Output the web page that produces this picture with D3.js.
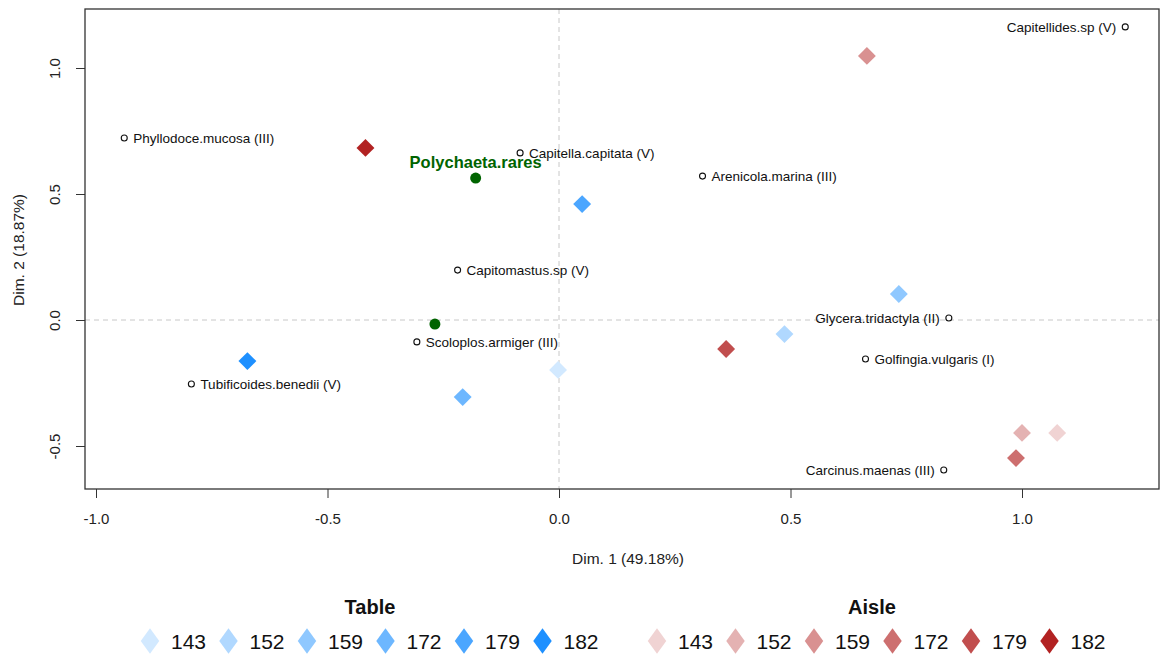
<!DOCTYPE html>
<html>
<head>
<meta charset="utf-8">
<script src="https://cdn.jsdelivr.net/npm/d3@7"></script>
<style>
  body { margin: 0; background: #fff; }
  svg { font-family: "Liberation Sans", Arial, sans-serif; }
</style>
</head>
<body>
<svg id="chart" width="1160" height="657"></svg>
<script>
// levels shared by both groups
var levels = ["143", "152", "159", "172", "179", "182"];
var levelAlpha = [0.2, 0.35, 0.5, 0.65, 0.8, 1];

// supplementary categories (diamonds)
var tableX = [-0.002, 0.487, 0.734, -0.208, 0.050, -0.673];
var tableY = [-0.198, -0.056, 0.103, -0.306, 0.460, -0.163];
var aisleX = [1.076, 1.000, 0.665, 0.987, 0.361, -0.418];
var aisleY = [-0.448, -0.448, 1.048, -0.548, -0.115, 0.683];

// species (small open circles)
var species = ["Phyllodoce.mucosa (III)", "Capitella.capitata (V)", "Arenicola.marina (III)",
  "Capitomastus.sp (V)", "Scoloplos.armiger (III)", "Tubificoides.benedii (V)",
  "Capitellides.sp (V)", "Glycera.tridactyla (II)", "Golfingia.vulgaris (I)", "Carcinus.maenas (III)"];
var speciesX = [-0.939, -0.084, 0.310, -0.219, -0.307, -0.794, 1.223, 0.842, 0.662, 0.831];
var speciesY = [0.722, 0.663, 0.571, 0.198, -0.087, -0.254, 1.163, 0.008, -0.155, -0.595];
var speciesSide = ["r", "r", "r", "r", "r", "r", "l", "l", "r", "l"];

// green points
var greenNames = ["Polychaeta.rares", ""];
var greenX = [-0.180, -0.268];
var greenY = [0.563, -0.016];

var xTicks = [-1.0, -0.5, 0.0, 0.5, 1.0];
var yTicks = [-0.5, 0.0, 0.5, 1.0];

var svg = d3.select("#chart");
var pLeft = 85, pRight = 1159, pTop = 9, pBottom = 489;

var x = d3.scaleLinear().domain([-1.0, 1.0]).range([96, 1022]);
var y = d3.scaleLinear().domain([-0.5, 1.0]).range([446, 68]);

function mix(base, a) {
  var c = d3.rgb(base);
  return d3.rgb(255 - a * (255 - c.r), 255 - a * (255 - c.g), 255 - a * (255 - c.b)).formatHex();
}
var blues = levelAlpha.map(function(a) { return mix("#1e90ff", a); });
var reds = levelAlpha.map(function(a) { return mix("#b22222", a); });

// R style tick labels, plain hyphen
var fmt = function(v) { return v.toFixed(1); };

var diamond = d3.symbol().type(d3.symbolSquare).size(160);

// dashed zero lines
svg.append("line").attr("x1", pLeft).attr("x2", pRight).attr("y1", y(0)).attr("y2", y(0))
  .attr("stroke", "#c8c8c8").attr("stroke-dasharray", "5,4");
svg.append("line").attr("x1", x(0)).attr("x2", x(0)).attr("y1", pTop).attr("y2", pBottom)
  .attr("stroke", "#c8c8c8").attr("stroke-dasharray", "5,4");

// axes
var xAxis = svg.append("g").attr("transform", "translate(0," + pBottom + ")")
  .call(d3.axisBottom(x).tickValues(xTicks).tickFormat(fmt).tickSize(9).tickPadding(15));
var yAxis = svg.append("g").attr("transform", "translate(" + pLeft + ",0)")
  .call(d3.axisLeft(y).tickValues(yTicks).tickFormat(fmt).tickSize(9));
[xAxis, yAxis].forEach(function(g) {
  g.select(".domain").remove();
  g.selectAll("line").attr("stroke", "#333");
  g.selectAll("text").attr("font-size", 15).attr("fill", "#222")
    .attr("font-family", "Liberation Sans, Arial, sans-serif");
});
yAxis.selectAll(".tick text")
  .attr("x", null).attr("dy", null)
  .attr("text-anchor", "middle")
  .attr("transform", "translate(-25,0) rotate(-90)");

svg.append("rect").attr("x", pLeft).attr("y", pTop).attr("width", pRight - pLeft).attr("height", pBottom - pTop)
  .attr("fill", "none").attr("stroke", "#333").attr("stroke-width", 1.3);

svg.append("text").attr("x", 628).attr("y", 564).attr("text-anchor", "middle")
  .attr("font-size", 15.5).attr("fill", "#222").text("Dim. 1 (49.18%)");
svg.append("text").attr("transform", "translate(24,250) rotate(-90)").attr("text-anchor", "middle")
  .attr("font-size", 15.5).attr("fill", "#222").text("Dim. 2 (18.87%)");

// diamonds
function drawDiamonds(xs, ys, cols) {
  svg.append("g").selectAll("path").data(xs).join("path")
    .attr("d", diamond)
    .attr("transform", function(d, i) { return "translate(" + x(d) + "," + y(ys[i]) + ") rotate(45)"; })
    .attr("fill", function(d, i) { return cols[i]; });
}
drawDiamonds(tableX, tableY, blues);
drawDiamonds(aisleX, aisleY, reds);

// species
var sp = svg.append("g");
sp.selectAll("circle").data(species).join("circle")
  .attr("cx", function(d, i) { return x(speciesX[i]); })
  .attr("cy", function(d, i) { return y(speciesY[i]); })
  .attr("r", 3).attr("fill", "#fff").attr("stroke", "#111").attr("stroke-width", 1.1);
sp.selectAll("text").data(species).join("text")
  .attr("x", function(d, i) { return x(speciesX[i]) + (speciesSide[i] === "r" ? 9 : -9); })
  .attr("y", function(d, i) { return y(speciesY[i]) + 5; })
  .attr("text-anchor", function(d, i) { return speciesSide[i] === "r" ? "start" : "end"; })
  .attr("font-size", 13.5).attr("fill", "#111").text(function(d) { return d; });

// green points
svg.append("g").selectAll("circle").data(greenX).join("circle")
  .attr("cx", function(d) { return x(d); })
  .attr("cy", function(d, i) { return y(greenY[i]); })
  .attr("r", 5.5).attr("fill", "#006400");
svg.append("g").selectAll("text").data(greenNames).join("text")
  .attr("x", function(d, i) { return x(greenX[i]); })
  .attr("y", function(d, i) { return y(greenY[i]) - 10; })
  .attr("text-anchor", "middle").attr("font-size", 16.5).attr("font-weight", "bold")
  .attr("fill", "#006400").text(function(d) { return d; });

// legends
var legDiamond = d3.symbol().type(d3.symbolSquare).size(330);
function legend(title, cx, x0, cols) {
  svg.append("text").attr("x", cx).attr("y", 614).attr("text-anchor", "middle")
    .attr("font-size", 20).attr("font-weight", "bold").attr("fill", "#111").text(title);
  var g = svg.append("g");
  g.selectAll("path").data(levels).join("path")
    .attr("d", legDiamond)
    .attr("transform", function(d, i) { return "translate(" + (x0 + i * 78.5) + ",641) scale(0.72,1) rotate(45)"; })
    .attr("fill", function(d, i) { return cols[i]; });
  g.selectAll("text").data(levels).join("text")
    .attr("x", function(d, i) { return x0 + i * 78.5 + 21; })
    .attr("y", 649)
    .attr("font-size", 21).attr("fill", "#111").text(function(d) { return d; });
}
legend("Table", 370, 150, blues);
legend("Aisle", 872, 657, reds);
</script>
</body>
</html>
